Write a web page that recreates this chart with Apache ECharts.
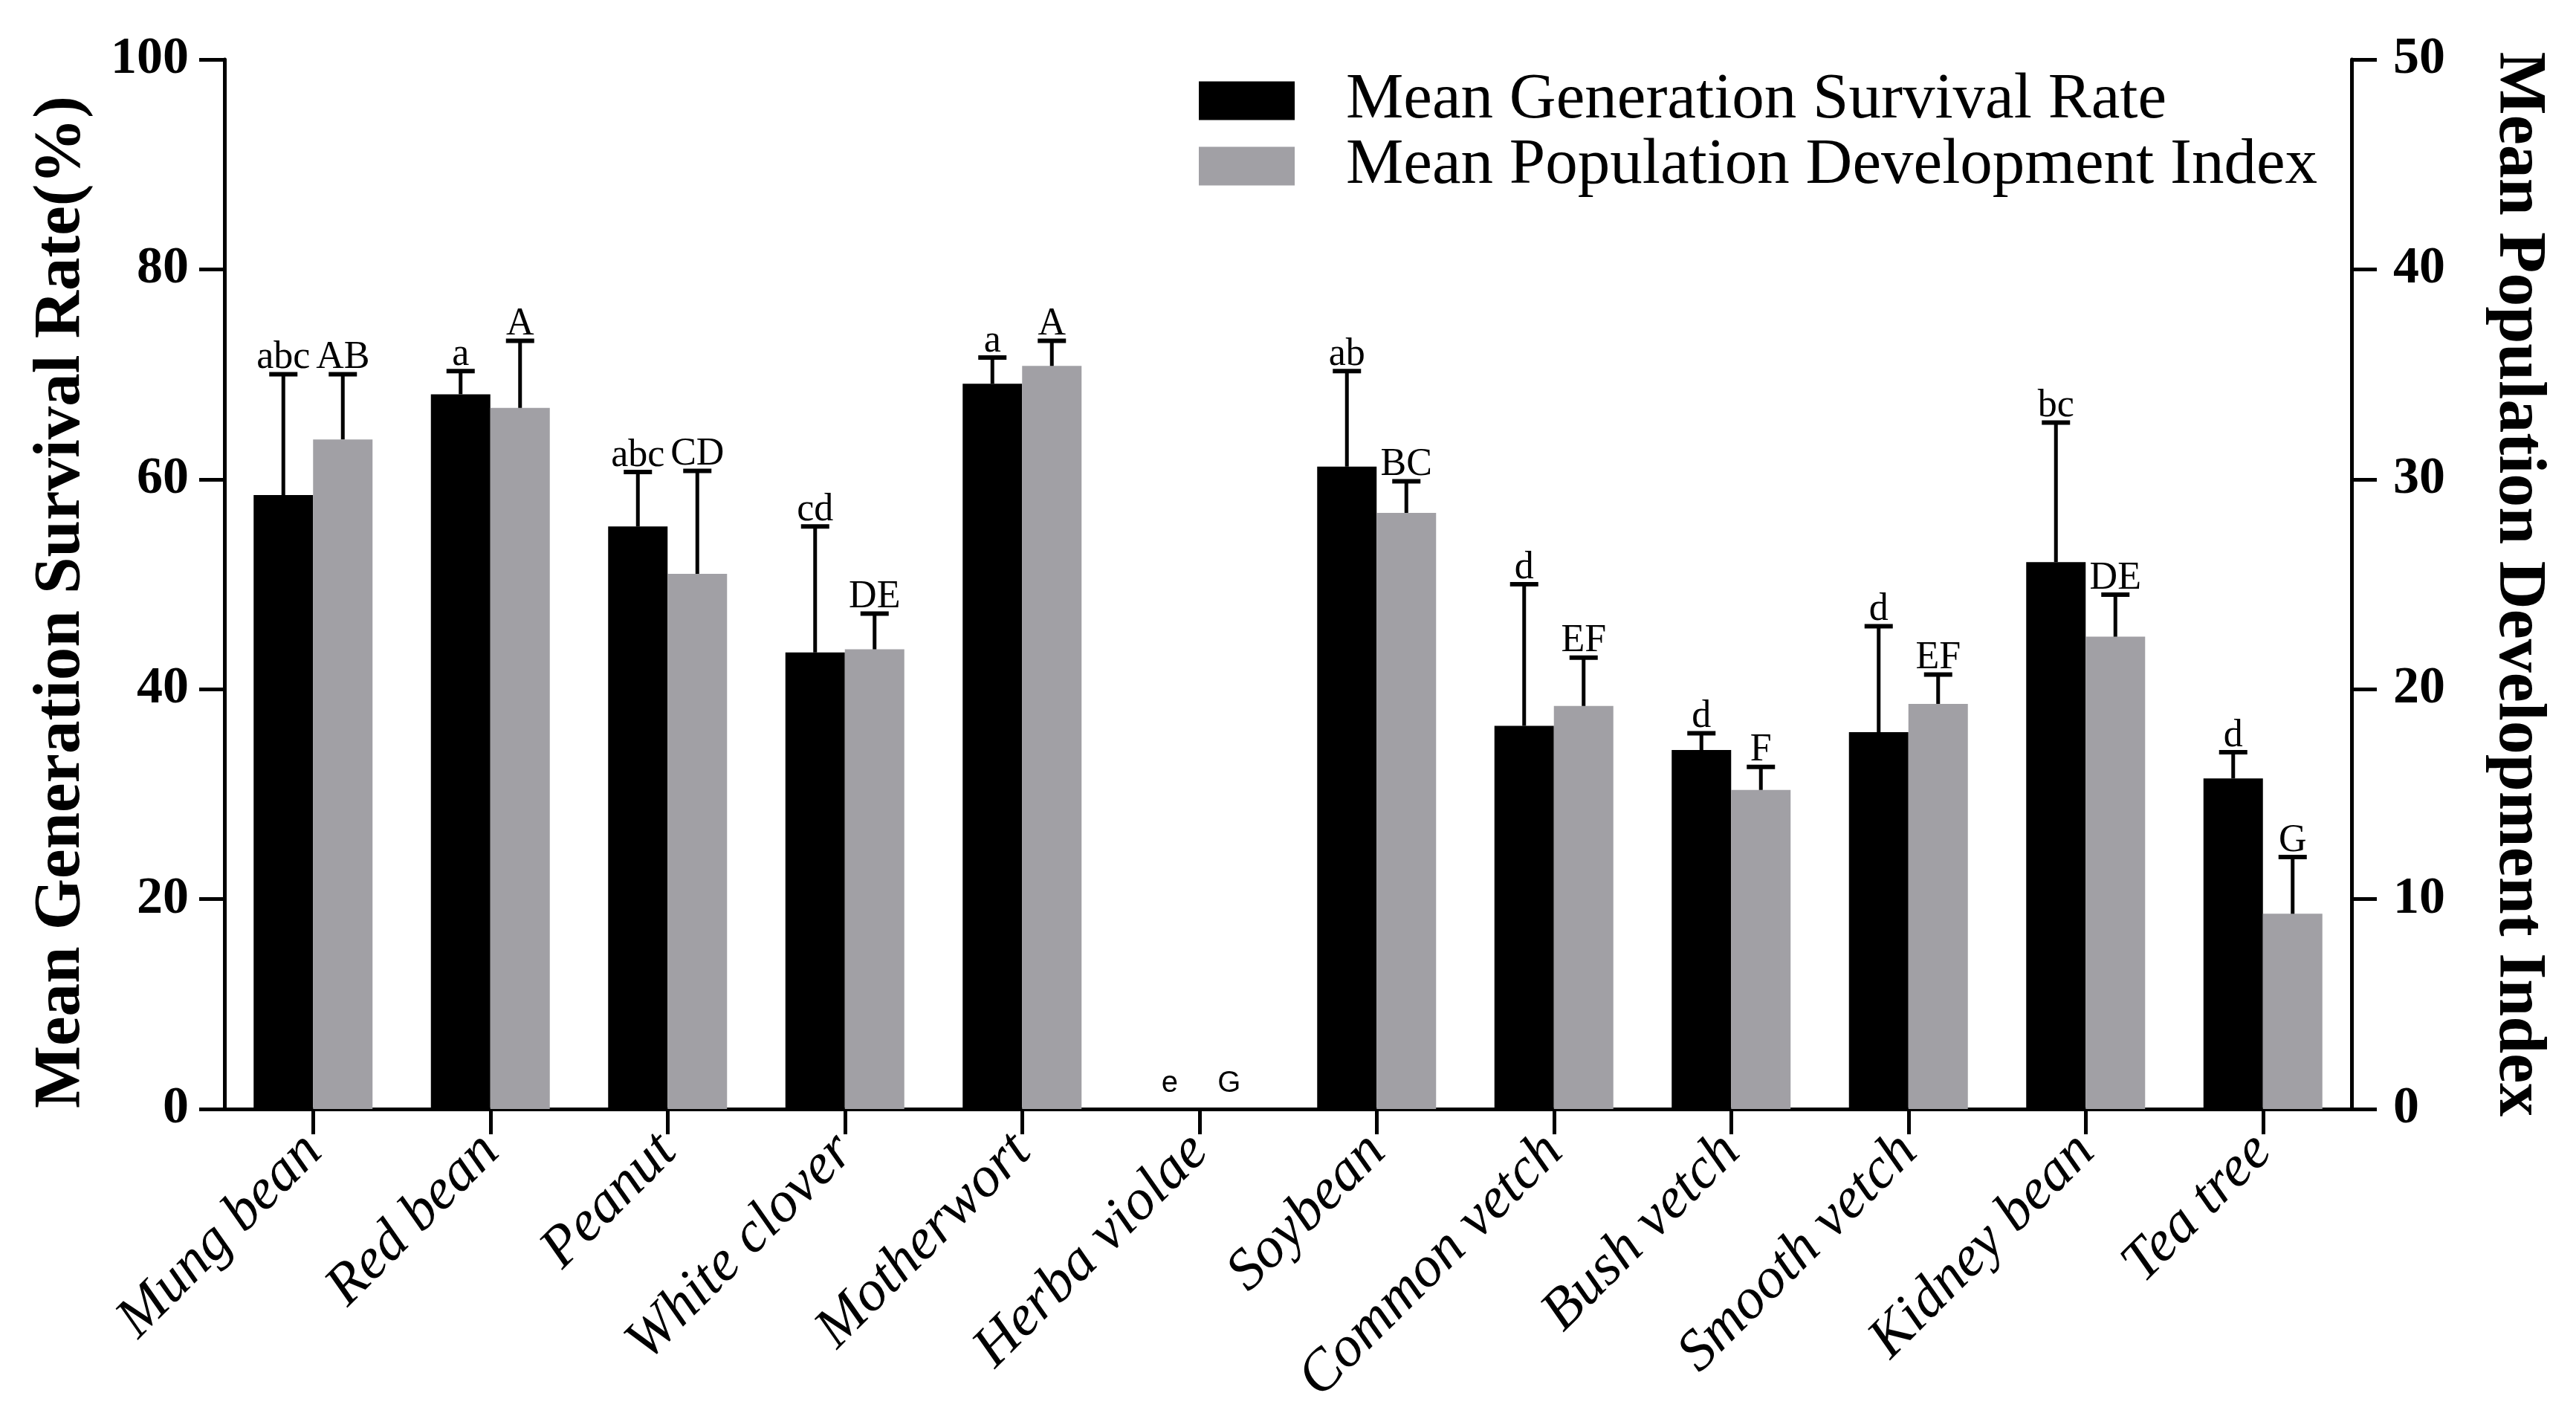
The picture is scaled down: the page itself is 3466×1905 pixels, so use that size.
<!DOCTYPE html>
<html>
<head>
<meta charset="utf-8">
<script src="https://cdn.jsdelivr.net/npm/echarts@6/dist/echarts.min.js"></script>
<style>
html,body{margin:0;padding:0;background:#fff;}
#chart{width:3466px;height:1905px;}
</style>
</head>
<body>
<div id="chart"></div>
<script>
const categories = ['Mung bean','Red bean','Peanut','White clover','Motherwort','Herba violae','Soybean','Common vetch','Bush vetch','Smooth vetch','Kidney bean','Tea tree'];
const survivalMean = [58.5, 68.1, 55.5, 43.5, 69.1, 0, 61.2, 36.5, 34.2, 35.9, 52.1, 31.5];
const survivalSD   = [11.5, 2.2, 5.2, 12.0, 2.5, 0, 9.1, 13.5, 1.6, 10.1, 13.3, 2.5];
const survivalLetters = ['abc','a','abc','cd','a','e','ab','d','d','d','bc','d'];
const devMean = [31.9, 33.4, 25.5, 21.9, 35.4, 0, 28.4, 19.2, 15.2, 19.3, 22.5, 9.3];
const devSD   = [3.1, 3.2, 4.9, 1.7, 1.2, 0, 1.5, 2.3, 1.1, 1.4, 2.0, 2.7];
const devLetters = ['AB','A','CD','DE','A','G','BC','EF','F','EF','DE','G'];
const seriesNames = ['Mean Generation Survival Rate','Mean Population Development Index'];
const leftAxisName = 'Mean Generation Survival Rate(%)';
const rightAxisName = 'Mean Population Development Index';

const SERIF = '"Liberation Serif","Times New Roman",serif';
const SANS = '"Liberation Sans",Arial,sans-serif';
const BAR_W = 80;

function errData(mean, sd){
  return mean.map((m,i)=>[i, m, sd[i]]);
}

function makeRender(offset, letters){
  return function(params, api){
    const idx = api.value(0), m = api.value(1), sd = api.value(2);
    const label = letters[idx];
    const base = api.coord([idx, m]);
    const top = api.coord([idx, m + sd]);
    const x = base[0] + offset;
    const children = [];
    if (m === 0 && sd === 0) {
      children.push({type:'text', style:{text:label, x:x, y:base[1]-14, textAlign:'center', textVerticalAlign:'bottom', font:'40px '+SANS, fill:'#000'}});
      return {type:'group', children};
    }
    if (sd > 0) {
      children.push({type:'line', shape:{x1:x, y1:base[1], x2:x, y2:top[1]}, style:{stroke:'#000', lineWidth:5}});
    }
    children.push({type:'line', shape:{x1:x-19, y1:top[1], x2:x+19, y2:top[1]}, style:{stroke:'#000', lineWidth:6}});
    children.push({type:'text', style:{text:label, x:x, y:top[1]+4, textAlign:'center', textVerticalAlign:'bottom', font:'52px '+SERIF, fill:'#000'}});
    return {type:'group', children};
  };
}

const chart = echarts.init(document.getElementById('chart'), null, {renderer:'canvas'});
const axisLine = {show:true, lineStyle:{color:'#000', width:5}};
const axisTick = {show:true, inside:false, length:34, lineStyle:{color:'#000', width:5}};

chart.setOption({
  backgroundColor:'#fff',
  animation:false,
  grid:{left:302, right:302, top:80, bottom:413, containLabel:false},
  legend:{
    show:true, orient:'vertical', left:1613, top:92, padding:0,
    itemWidth:129, itemHeight:52, itemGap:1,
    icon:'rect',
    textStyle:{fontFamily:SERIF, fontSize:87, color:'#000', padding:[0,0,0,64]},
    data:seriesNames
  },
  xAxis:{
    type:'category', data:categories,
    axisLine:axisLine,
    axisTick:Object.assign({alignWithLabel:true}, axisTick),
    axisLabel:{rotate:45, margin:46, fontFamily:SERIF, fontStyle:'italic', fontSize:78, color:'#000', interval:0},
    splitLine:{show:false}
  },
  yAxis:[
    {type:'value', min:0, max:100, interval:20, position:'left',
     name:leftAxisName, nameLocation:'middle', nameRotate:90, nameGap:174,
     nameTextStyle:{fontFamily:SERIF, fontWeight:'bold', fontSize:89, color:'#000', padding:[0,48,0,0]},
     axisLine:axisLine, axisTick:axisTick,
     axisLabel:{margin:48, fontFamily:SERIF, fontWeight:'bold', fontSize:70, color:'#000'},
     splitLine:{show:false}},
    {type:'value', min:0, max:50, interval:10, position:'right',
     name:rightAxisName, nameLocation:'middle', nameRotate:-90, nameGap:178,
     nameTextStyle:{fontFamily:SERIF, fontWeight:'bold', fontSize:90, color:'#000'},
     axisLine:axisLine, axisTick:axisTick,
     axisLabel:{margin:56, fontFamily:SERIF, fontWeight:'bold', fontSize:70, color:'#000'},
     splitLine:{show:false}}
  ],
  series:[
    {name:seriesNames[0], type:'bar', yAxisIndex:0, data:survivalMean, barWidth:BAR_W, barGap:'0%',
     itemStyle:{color:'#000'}},
    {name:seriesNames[1], type:'bar', yAxisIndex:1, data:devMean, barWidth:BAR_W, barGap:'0%',
     itemStyle:{color:'#a1a0a5'}},
    {type:'custom', yAxisIndex:0, data:errData(survivalMean, survivalSD),
     renderItem:makeRender(-BAR_W/2, survivalLetters), clip:false, z:5, silent:true},
    {type:'custom', yAxisIndex:1, data:errData(devMean, devSD),
     renderItem:makeRender(BAR_W/2, devLetters), clip:false, z:5, silent:true}
  ]
});
</script>
</body>
</html>
